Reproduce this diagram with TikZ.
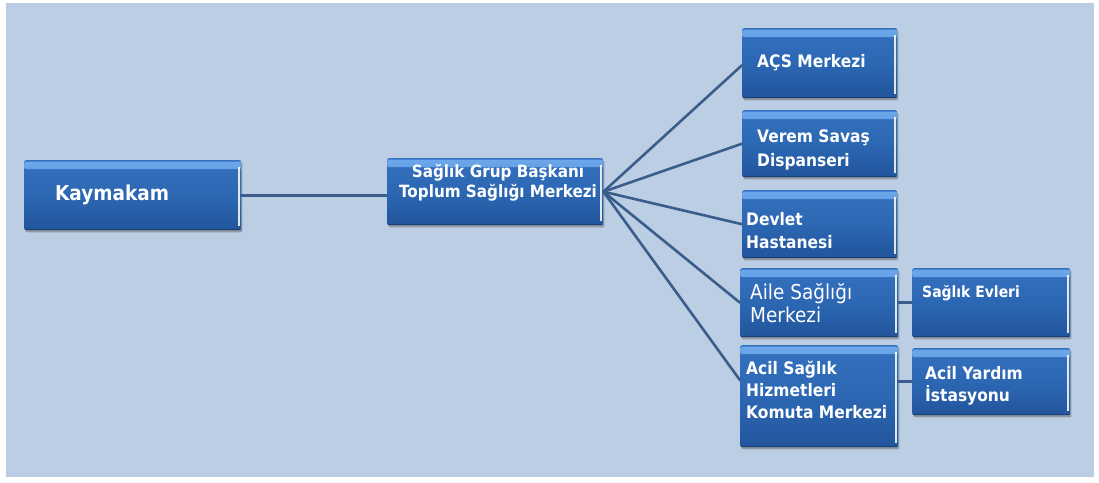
\documentclass[tikz,border=0pt]{standalone}
\usepackage{fontspec}
\setmainfont{DejaVu Sans}[FakeStretch=0.9]
\usetikzlibrary{shadows}

\definecolor{paper}{HTML}{BBCEE4}
\definecolor{boxtop}{HTML}{3471BE}
\definecolor{boxmid}{HTML}{2C67B3}
\definecolor{boxbot}{HTML}{22559C}
\definecolor{glossA}{HTML}{6CA8EA}
\definecolor{glossB}{HTML}{3675C3}
\definecolor{wire}{HTML}{3A5D8C}

\tikzset{
  unitbox/.style={
    draw=none, inner sep=0pt, anchor=north west, rounded corners=2pt,
    top color=boxtop, bottom color=boxbot, middle color=boxmid,
    drop shadow={shadow xshift=1.2pt, shadow yshift=-2.2pt, fill=black!60, opacity=.5},
    path picture={
      \shade[top color=glossA, bottom color=glossB]
        ([yshift=-1.5pt]path picture bounding box.north west) rectangle
        ([yshift=-9pt]path picture bounding box.north east);
      \draw[white, line width=1.6pt, opacity=.85]
        ([xshift=-2.5pt, yshift=-7pt]path picture bounding box.north east) --
        ([xshift=-2.5pt, yshift=4pt]path picture bounding box.south east);
      \draw[black, opacity=.25, line width=1.5pt]
        (path picture bounding box.south west) -- (path picture bounding box.south east);
    }},
  label/.style={text=white, anchor=west, align=left, inner sep=0pt,
    font=\bfseries\fontsize{17.2}{22}\selectfont},
  wire/.style={draw=wire, line width=2.6pt, line cap=round}
}

\begin{document}
\begin{tikzpicture}[x=1pt, y=-1pt]
  \useasboundingbox (0,0) rectangle (1099,482);
  \fill[white] (0,0) rectangle (1099,482);
  \fill[paper] (6,3) rectangle (1094,477);

  % boxes
  \node[unitbox, minimum width=217pt, minimum height=70pt] (kay) at (24,160) {};
  \node[unitbox, minimum width=216pt, minimum height=67pt] (tsm) at (387,158) {};
  \node[unitbox, minimum width=155pt, minimum height=70pt] (acs) at (742,28) {};
  \node[unitbox, minimum width=155pt, minimum height=67pt] (vsd) at (742,110) {};
  \node[unitbox, minimum width=155pt, minimum height=68pt] (dh)  at (742,190) {};
  \node[unitbox, minimum width=158pt, minimum height=69pt] (asm) at (740,268) {};
  \node[unitbox, minimum width=158pt, minimum height=102pt] (ash) at (740,345) {};
  \node[unitbox, minimum width=158pt, minimum height=69pt] (se)  at (912,268) {};
  \node[unitbox, minimum width=158pt, minimum height=67pt] (ayi) at (912,348) {};

  % connectors
  \draw[wire] (kay.east) -- (kay.east -| tsm.west);
  \draw[wire] (tsm.east) -- ([yshift=-2pt]acs.west);
  \draw[wire] (tsm.east) -- (vsd.west);
  \draw[wire] (tsm.east) -- (dh.west);
  \draw[wire] (tsm.east) -- (asm.west);
  \draw[wire] (tsm.east) -- ([yshift=16pt]ash.west);
  \draw[wire] (asm.east) -- (se.west);
  \draw[wire] (ash.east |- ayi.west) -- (ayi.west);

  % texts
  \node[label, font=\bfseries\fontsize{20.5}{22}\selectfont] (tkay) at (55,195) {Kaymakam};
  \node[label, align=center, anchor=center, font=\bfseries\fontsize{16.9}{20}\selectfont] (ttsm) at (498,183)
    {Sağlık Grup Başkanı\\Toplum Sağlığı Merkezi};
  \node[label] (tacs) at (757,63) {AÇS Merkezi};
  \node[label, font=\bfseries\fontsize{17.2}{24}\selectfont] (tvsd) at (757,150) {Verem Savaş\\Dispanseri};
  \node[label, font=\bfseries\fontsize{17.2}{23}\selectfont] (tdh) at (746,231) {Devlet\\Hastanesi};
  \node[label, font=\fontsize{20.5}{23}\selectfont] (tasm) at (750,303) {Aile Sağlığı\\Merkezi};
  \node[label] (tash) at (746,390) {Acil Sağlık\\Hizmetleri\\Komuta Merkezi};
  \node[label, font=\bfseries\fontsize{15.5}{22}\selectfont] (tse) at (922,293) {Sağlık Evleri};
  \node[label] (tayi) at (925,386) {Acil Yardım\\İstasyonu};
\end{tikzpicture}
\end{document}
